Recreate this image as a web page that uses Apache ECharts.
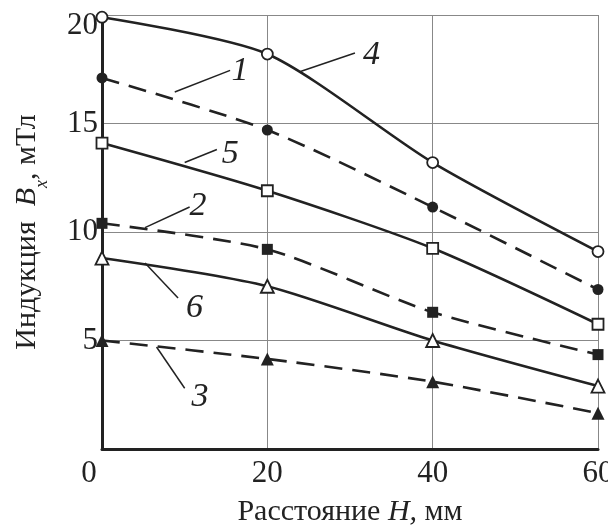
<!DOCTYPE html>
<html lang="ru">
<head>
    <meta charset="UTF-8">
    <title>Индукция</title>
    <style>
        html, body { margin: 0; padding: 0; background: #fff; }
        #chart { width: 608px; height: 529px; }
    </style>
</head>
<body>
<div id="chart"></div>
<script src="https://cdn.jsdelivr.net/npm/echarts@6/dist/echarts.min.js"></script>
<script type="text/javascript">
    // расстояние H, мм
    var distances = [0, 20, 40, 60];
    // индукция Bx, мТл, по кривым 1..6
    var curve1 = [17.1, 14.7, 11.15, 7.35];
    var curve2 = [10.4, 9.2, 6.3, 4.35];
    var curve3 = [5.0, 4.15, 3.1, 1.65];
    var curve4 = [19.9, 18.2, 13.2, 9.1];
    var curve5 = [14.1, 11.9, 9.25, 5.75];
    var curve6 = [8.8, 7.5, 5.0, 2.9];
    var xTicks = [0, 20, 40, 60];
    var yTicks = [5, 10, 15, 20];

    // выноски с номерами кривых: [от, до, подпись]
    var callouts = {
        '1': [[8.8, 16.45], [15.5, 17.45], [16.7, 17.4]],
        '2': [[5.2, 10.2], [10.6, 11.15], [11.6, 11.2]],
        '3': [[6.6, 4.7], [10.0, 2.8], [11.85, 2.4]],
        '4': [[24.0, 17.4], [30.6, 18.25], [32.6, 18.15]],
        '5': [[10.0, 13.2], [13.9, 13.8], [15.5, 13.6]],
        '6': [[5.2, 8.57], [9.2, 6.96], [11.2, 6.5]]
    };

    var font = 'Liberation Serif';

    function makeSeries(name, values, symbol, filled, dashed) {
        var c = callouts[name];
        return {
            name: name,
            type: 'line',
            smooth: 0.25,
            data: values.map(function (v, i) { return [distances[i], v]; }),
            symbol: symbol,
            symbolSize: symbol === 'triangle' ? 13 : 11,
            lineStyle: {
                color: '#222',
                width: 2.6,
                type: dashed ? [18, 10] : 'solid'
            },
            itemStyle: {
                color: filled ? '#222' : '#fff',
                borderColor: '#222',
                borderWidth: filled ? 0 : 1.8
            },
            z: 3,
            markLine: {
                silent: true,
                symbol: 'none',
                label: { show: false },
                lineStyle: { color: '#222', width: 1.5, type: 'solid' },
                data: [[{ coord: c[0] }, { coord: c[1] }]]
            },
            markPoint: {
                silent: true,
                symbol: 'circle',
                symbolSize: 1,
                itemStyle: { color: 'rgba(0,0,0,0)' },
                label: {
                    show: true,
                    position: 'inside',
                    formatter: name,
                    fontFamily: font,
                    fontStyle: 'italic',
                    fontSize: 34,
                    color: '#222'
                },
                data: [{ coord: c[2] }]
            }
        };
    }

    var myChart = echarts.init(document.getElementById('chart'));
    var option = {
        animation: false,
        backgroundColor: '#fff',
        grid: {
            left: 102,
            right: 10,
            top: 15,
            bottom: 80,
            outerBoundsMode: 'none'
        },
        xAxis: {
            type: 'value',
            min: 0,
            max: 60,
            interval: 20,
            name: 'Расстояние {i|H,} мм',
            nameLocation: 'middle',
            nameGap: 48,
            nameTextStyle: {
                fontFamily: font,
                fontSize: 30,
                color: '#222',
                rich: {
                    i: { fontFamily: font, fontSize: 30, fontStyle: 'italic', color: '#222' }
                }
            },
            axisLine: { show: true, onZero: false, lineStyle: { color: '#222', width: 3 } },
            axisTick: { show: false },
            axisLabel: {
                fontFamily: font,
                fontSize: 31,
                color: '#222',
                margin: 9,
                formatter: function (v) {
                    if (xTicks.indexOf(v) < 0) return '';
                    return v === 0 ? '{z|0}' : String(v);
                },
                rich: {
                    z: { fontFamily: font, fontSize: 31, color: '#222', padding: [0, 26, 0, 0] }
                }
            },
            splitLine: { show: true, lineStyle: { color: '#888', width: 1 } }
        },
        yAxis: {
            type: 'value',
            min: 0,
            max: 20,
            interval: 5,
            name: 'Индукция  {b|B}{s|x}, мТл',
            nameLocation: 'middle',
            nameGap: 60,
            nameTextStyle: {
                fontFamily: font,
                fontSize: 30,
                color: '#222',
                rich: {
                    b: { fontFamily: font, fontSize: 30, fontStyle: 'italic', color: '#222' },
                    s: { fontFamily: font, fontSize: 18, fontStyle: 'italic', color: '#222', verticalAlign: 'bottom', padding: [0, 0, -9, 0] }
                }
            },
            axisLine: { show: true, onZero: false, lineStyle: { color: '#222', width: 3 } },
            axisTick: { show: false },
            axisLabel: {
                fontFamily: font,
                fontSize: 31,
                color: '#222',
                margin: 4,
                showMinLabel: false,
                formatter: function (v) {
                    if (yTicks.indexOf(v) < 0) return '';
                    return v === 20 ? '{t|20}' : String(v);
                },
                rich: {
                    t: { fontFamily: font, fontSize: 31, color: '#222', padding: [22, 0, 0, 0] }
                }
            },
            splitLine: { show: true, lineStyle: { color: '#888', width: 1 } }
        },
        series: [
            makeSeries('4', curve4, 'circle', false, false),
            makeSeries('1', curve1, 'circle', true, true),
            makeSeries('5', curve5, 'rect', false, false),
            makeSeries('2', curve2, 'rect', true, true),
            makeSeries('6', curve6, 'triangle', false, false),
            makeSeries('3', curve3, 'triangle', true, true)
        ]
    };
    myChart.setOption(option);
</script>
</body>
</html>
